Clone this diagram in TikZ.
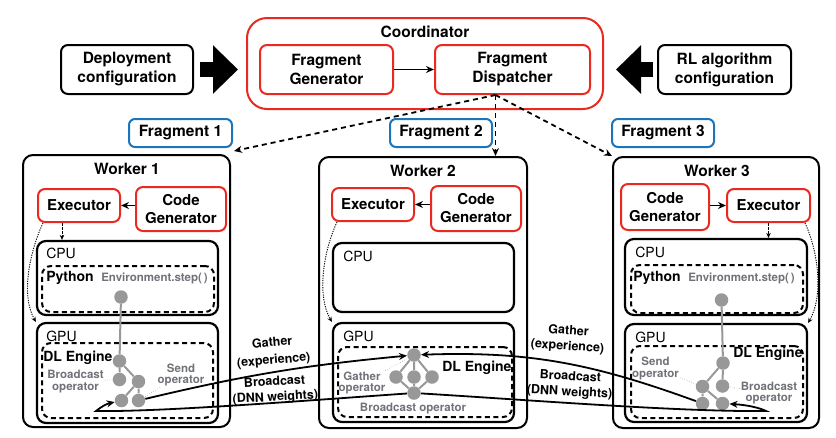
\documentclass[tikz,border=0pt]{standalone}
\usepackage{fontspec}
\setmainfont{TeX Gyre Heros}
\usetikzlibrary{arrows.meta}

\definecolor{cred}{RGB}{232,42,32}
\definecolor{cblue}{RGB}{28,116,186}
\definecolor{cgray}{RGB}{152,152,152}
\definecolor{tgray}{RGB}{112,114,120}
\newcommand\FontBox{\fontsize{15.5}{19}\selectfont\bfseries}
\newcommand\FontSub{\fontsize{15}{18}\selectfont\bfseries}
\newcommand\FontUnit{\fontsize{14}{16}\selectfont}
\newcommand\FontEng{\fontsize{14}{16}\selectfont\bfseries}
\newcommand\FontOp{\fontsize{11.5}{11.5}\selectfont\bfseries}
\newcommand\FontArr{\fontsize{12.5}{15.5}\selectfont\bfseries}

\begin{document}
\begin{tikzpicture}[x=1pt,y=-1pt,>={Stealth[length=8pt,width=7pt]},semithick]

  \tikzstyle{cfgbox}=[draw,line width=2pt,rounded corners=7pt,align=center,font=\FontBox,inner sep=0pt]
  \tikzstyle{redbox}=[cfgbox,draw=cred]
  \tikzstyle{fragbox}=[cfgbox,draw=cblue,rounded corners=6pt]
  \tikzstyle{workbox}=[draw,line width=2pt,rounded corners=10pt,inner sep=0pt]
  \tikzstyle{unitbox}=[draw,line width=2.2pt,rounded corners=9pt,inner sep=0pt]
  \tikzstyle{engbox}=[draw,line width=2pt,dash pattern=on 5pt off 3.5pt,rounded corners=9pt,inner sep=0pt]
  \tikzstyle{op}=[circle,fill=cgray,minimum size=13.5pt,inner sep=0pt]
  \tikzstyle{oplabel}=[text=tgray,font=\FontOp,align=center,inner sep=1pt]
  \tikzstyle{ttl}=[font=\FontBox,inner sep=0pt]
  \tikzstyle{unitlabel}=[font=\FontUnit,anchor=west,inner sep=0pt]
  \tikzstyle{englabel}=[font=\FontEng,anchor=west,inner sep=0pt]
  \tikzstyle{arrlabel}=[font=\FontArr,align=center,inner sep=0pt]
  \tikzstyle{gedge}=[draw=cgray,line width=2pt]
  \tikzstyle{flow}=[->,line width=1.8pt]
  \tikzstyle{dispatch}=[->,line width=1.8pt,dash pattern=on 5pt off 4pt]
  \tikzstyle{hint}=[->,dash pattern=on 1.2pt off 1.2pt,line width=0.9pt,>={Stealth[length=5pt,width=4.5pt]}]
  \tikzstyle{oplink}=[dotted,thin,draw=black!70]
  \tikzstyle{bigarrow}=[line width=15pt,-{Triangle[length=25pt,width=47pt]}]

  \useasboundingbox (0,0) rectangle (836,437);

  % configuration and coordinator
  \node[cfgbox,minimum width=132pt,minimum height=49pt] (DEP) at (127,69.5)   {Deployment\\configuration};
  \node[cfgbox,minimum width=133pt,minimum height=49pt] (RLC) at (724.5,69.5) {RL algorithm\\configuration};
  \node[redbox,rounded corners=20pt,minimum width=356pt,minimum height=91pt] (CRD) at (425,63.5) {};
  \node[ttl] (CRDT) at (425,32) {Coordinator};
  \node[redbox,minimum width=133pt,minimum height=49pt] (FGN) at (326.5,69.5) {Fragment\\Generator};
  \node[redbox,minimum width=155pt,minimum height=49pt] (FDP) at (512.5,69.5) {Fragment\\Dispatcher};

  \draw[bigarrow,shorten <=6pt,shorten >=8pt]  (DEP.east) -- (DEP.east -| CRD.west);
  \draw[bigarrow,shorten <=4pt,shorten >=12pt] (RLC.west) -- (RLC.west -| CRD.east);
  \draw[flow] (FGN) -- (FDP);

  \node[fragbox,minimum width=103pt,minimum height=28pt] (FR1) at (180.5,133) {Fragment 1};
  \node[fragbox,minimum width=102pt,minimum height=28pt] (FR2) at (441,133)   {Fragment 2};
  \node[fragbox,minimum width=102pt,minimum height=28pt] (FR3) at (663,133)   {Fragment 3};

  % worker 1
  \node[workbox,minimum width=207pt,minimum height=272pt] (W1) at (126.5,291) {};
  \node[ttl] (W1T) at (127,169) {Worker 1};
  \node[redbox,font=\FontSub,minimum width=82pt,minimum height=33pt] (EX1) at (79,205.5) {Executor};
  \node[redbox,font=\FontSub,minimum width=90pt,minimum height=44pt] (CG1) at (181,209) {Code\\Generator};
  \node[unitbox,minimum width=181pt,minimum height=74pt]  (CPU1) at (127.5,278) {};
  \node[unitbox,minimum width=181pt,minimum height=100pt] (GPU1) at (127.5,373) {};
  \node[engbox,minimum width=172pt,minimum height=46pt]   (PY1)  at (128,289) {};
  \node[engbox,minimum width=171pt,minimum height=75pt]   (DL1)  at (127.5,380.5) {};
  \node[unitlabel] (CPU1T) at (46,253) {CPU};
  \node[unitlabel] (GPU1T) at (46,336) {GPU};
  \node[englabel]  (PY1T)  at (46,277.5) {Python};
  \node[englabel]  (DL1T)  at (43,358) {DL Engine};
  \node[oplabel,anchor=west,inner sep=0pt] (ENV1) at (101,278.5) {Environment.step(\,)};

  % worker 2
  \node[workbox,minimum width=208pt,minimum height=271pt] (W2) at (423,292.5) {};
  \node[ttl] (W2T) at (423,171) {Worker 2};
  \node[redbox,font=\FontSub,minimum width=82pt,minimum height=33pt] (EX2) at (373,204.5) {Executor};
  \node[redbox,font=\FontSub,minimum width=90pt,minimum height=45pt] (CG2) at (476,208.5) {Code\\Generator};
  \node[unitbox,minimum width=181pt,minimum height=69pt] (CPU2) at (423.5,277.5) {};
  \node[unitbox,minimum width=181pt,minimum height=99pt] (GPU2) at (423.5,372.5) {};
  \node[engbox,minimum width=174pt,minimum height=70pt]  (DL2)  at (425,382) {};
  \node[unitlabel] (CPU2T) at (343,256) {CPU};
  \node[unitlabel] (GPU2T) at (343,336) {GPU};
  \node[englabel]  (DL2T)  at (442,368) {DL Engine};

  % worker 3
  \node[workbox,minimum width=206pt,minimum height=271pt] (W3) at (716,292.5) {};
  \node[ttl] (W3T) at (717,170.5) {Worker 3};
  \node[redbox,font=\FontSub,minimum width=88pt,minimum height=46pt] (CG3) at (665,207) {Code\\Generator};
  \node[redbox,font=\FontSub,minimum width=83pt,minimum height=33pt] (EX3) at (768.5,205.5) {Executor};
  \node[unitbox,minimum width=182pt,minimum height=76pt] (CPU3) at (716,277) {};
  \node[unitbox,minimum width=182pt,minimum height=98pt] (GPU3) at (716,373) {};
  \node[engbox,minimum width=172pt,minimum height=48pt]  (PY3)  at (717,289) {};
  \node[engbox,minimum width=172pt,minimum height=72pt]  (DL3)  at (717,382) {};
  \node[unitlabel] (CPU3T) at (635,252.5) {CPU};
  \node[unitlabel] (GPU3T) at (635,337) {GPU};
  \node[englabel]  (PY3T)  at (633,278) {Python};
  \node[englabel]  (DL3T)  at (733,354) {DL Engine};
  \node[oplabel,anchor=west,inner sep=0pt] (ENV3) at (688,278) {Environment.step(\,)};

  % dispatch of fragments
  \coordinate (FDPo) at ([xshift=-17pt]FDP.south);
  \draw[dispatch] (FDPo) -- ([xshift=3pt,yshift=3pt]W1.north east);
  \draw[dispatch] (FDPo) -- (FDPo |- W2.north);
  \draw[dispatch] (FDPo) -- (W3.north west);

  % inside the workers
  \draw[flow] (CG1.west |- EX1.east) -- (EX1.east);
  \draw[flow] (CG2.west |- EX2.east) -- (EX2.east);
  \draw[flow] (CG3.east |- EX3.west) -- (EX3.west);
  \draw[hint,dash pattern=on 2.5pt off 1.5pt] ([xshift=-17pt]EX1.south) -- ([xshift=-17pt]EX1.south |- CPU1.north);
  \draw[hint,dash pattern=on 2.5pt off 1.5pt] (EX3.south) -- (EX3.south |- CPU3.north);
  \draw[hint] ([xshift=6pt]EX1.south west)  to[out=245,in=120,looseness=0.8] (GPU1.north west);
  \draw[hint] ([xshift=6pt]EX2.south west)  to[out=245,in=120,looseness=0.8] (GPU2.north west);
  \draw[hint] ([xshift=-6pt]EX3.south east) to[out=-65,in=60,looseness=0.8]  (GPU3.north east);

  % operator graphs
  \node[op] (T1) at (121,297) {};
  \node[op] (A1) at (119.5,361) {};
  \node[op] (B1) at (119.5,379.5) {};
  \node[op] (C1) at (138.5,381.5) {};
  \node[op] (D1) at (121.5,400.5) {};
  \node[op] (E1) at (138.5,400.5) {};
  \draw[gedge] (T1) -- (A1) (A1) -- (B1) (A1) -- (C1) (C1) -- (D1) (C1) -- (E1);

  \node[op] (T2)  at (414,355) {};
  \node[op] (L2)  at (396,377) {};
  \node[op] (M2)  at (414,377) {};
  \node[op] (R2)  at (432,377) {};
  \node[op] (BT2) at (414,393) {};
  \draw[gedge] (T2) -- (L2) (T2) -- (M2) (T2) -- (R2) (L2) -- (BT2) (M2) -- (BT2) (R2) -- (BT2);

  \node[op] (T3) at (721.5,300) {};
  \node[op] (A3) at (723,363) {};
  \node[op] (B3) at (702.5,386.5) {};
  \node[op] (C3) at (722.5,386) {};
  \node[op] (D3) at (702.5,403.5) {};
  \node[op] (E3) at (722.5,403.5) {};
  \draw[gedge] (T3) -- (A3) (A3) -- (B3) (A3) -- (C3) (B3) -- (D3) (B3) -- (E3);

  \node[oplabel] (BO1) at (75.5,381.5) {Broadcast\\operator};
  \node[oplabel] (SO1) at (181,375)    {Send\\operator};
  \node[oplabel] (GO2) at (362,383)    {Gather\\operator};
  \node[oplabel] (BO2) at (413,409)    {Broadcast operator};
  \node[oplabel] (SO3) at (655.5,368.5) {Send\\operator};
  \node[oplabel] (BO3) at (769,393)    {Broadcast\\operator};
  \draw[oplink] (BO1) -- (B1);
  \draw[oplink] (SO1) -- (E1);
  \draw[oplink] (GO2) -- (T2);
  \draw[oplink] (SO3) -- (B3);
  \draw[oplink] (BO3) -- (C3);

  % gather and broadcast
  \node[arrlabel,rotate=5]  (GL) at (273,352) {Gather\\[2pt](experience)};
  \node[arrlabel,rotate=3]  (BL) at (275,390) {Broadcast\\(DNN weights)};
  \node[arrlabel,rotate=-4] (GR) at (568,339) {Gather\\(experience)};
  \node[arrlabel,rotate=-3] (BR) at (570,385) {Broadcast\\(DNN weights)};

  \coordinate (HK1) at (96,411);
  \coordinate (HK3) at (766,411);
  \draw[flow] (E1) to[bend left=4] (T2);
  \draw[flow] (D3) to[out=160,in=2] (T2);
  \draw[flow] (BT2) .. controls (300,401) and (160,412) .. (HK1) .. controls (101,407) and (106,404) .. (D1);
  \draw[flow] (BT2) .. controls (530,400) and (680,412) .. (HK3) .. controls (760,408) and (748,405) .. (E3);
\end{tikzpicture}
\end{document}
